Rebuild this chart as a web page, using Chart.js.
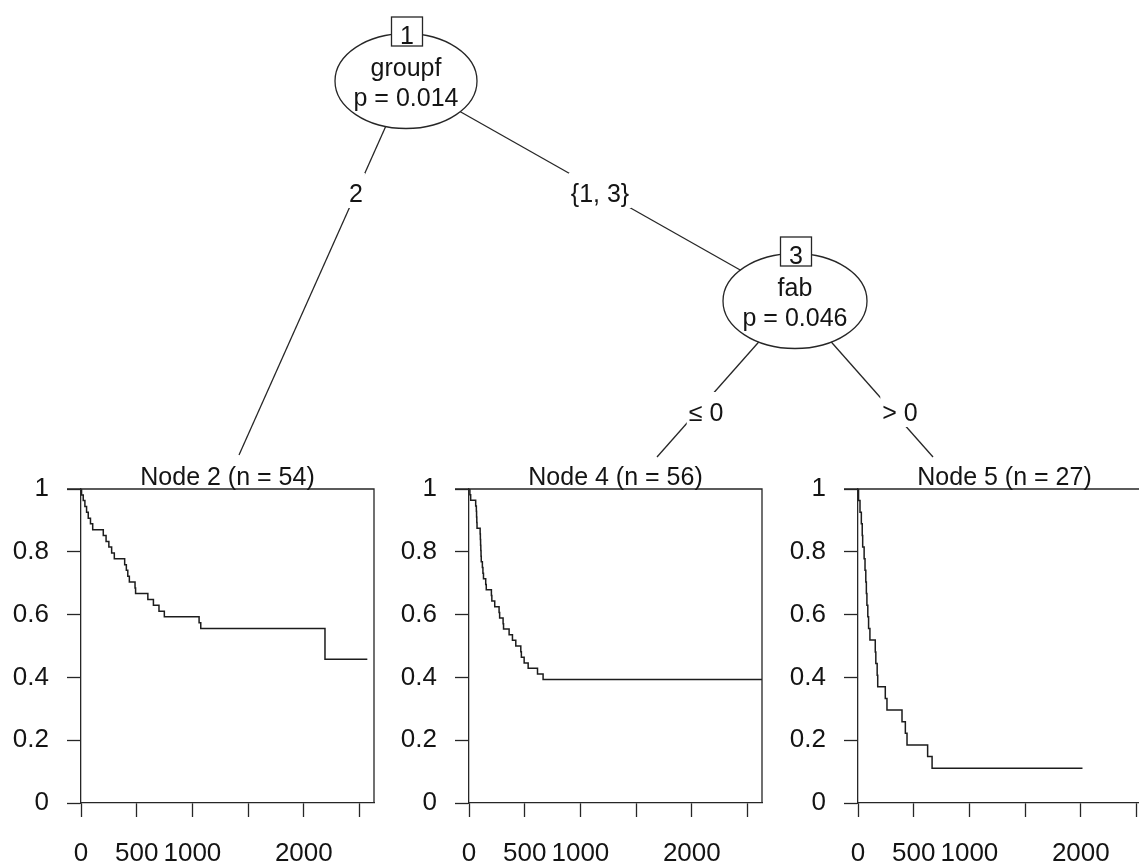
<!DOCTYPE html>
<html>
<head>
<meta charset="utf-8">
<title>Survival tree</title>
<script src="https://cdn.jsdelivr.net/npm/chart.js@4.4.1/dist/chart.umd.min.js"></script>
<style>
  html, body { margin: 0; padding: 0; background: #fff; }
  #page { position: relative; width: 1139px; height: 863px; overflow: hidden; background: #fff; }
  #page canvas { position: absolute; }
</style>
</head>
<body>
<div id="page">
  <canvas id="tree" width="1139" height="863" style="left:0;top:0"></canvas>
  <canvas id="node2" width="373" height="429" style="left:11px;top:440px"></canvas>
  <canvas id="node4" width="373" height="429" style="left:399px;top:440px"></canvas>
  <canvas id="node5" width="373" height="429" style="left:788px;top:440px"></canvas>
</div>
<script>
// ---- tree contents ----
const innerIds = ['1', '3'];
const innerVars = ['groupf', 'fab'];
const innerP = ['0.014', '0.046'];
const edgeLabels = ['2', '{1, 3}', '\u2264 0', '> 0'];
const terminalIds = [2, 4, 5];
const terminalN = [54, 56, 27];

// ---- survival axes ----
const TIME_MAX = 2630;
const timeTicks = [0, 500, 1000, 1500, 2000, 2500];
const timeTickLabels = ['0', '500', '1000', '', '2000', ''];
const survTicks = [0, 0.2, 0.4, 0.6, 0.8, 1];
const survTickLabels = ['0', '0.2', '0.4', '0.6', '0.8', '1'];

// ---- Kaplan-Meier steps per terminal node (time, survival) ----
const node2Time = [0, 5, 20, 35, 50, 65, 85, 105, 200, 225, 250, 275, 299, 392, 407, 420, 434, 485, 490, 600, 650, 700, 748, 1060, 1075, 2190, 2570];
const node2Surv = [1, 0.981, 0.963, 0.944, 0.926, 0.907, 0.889, 0.870, 0.852, 0.833, 0.815, 0.796, 0.778, 0.759, 0.741, 0.722, 0.704, 0.685, 0.667, 0.648, 0.630, 0.611, 0.593, 0.574, 0.556, 0.458, 0.458];

const node4Time = [0, 8, 15, 60, 66, 68, 70, 72, 100, 102, 104, 106, 108, 110, 120, 125, 130, 150, 155, 201, 205, 231, 270, 275, 306, 310, 360, 390, 420, 465, 470, 495, 531, 615, 665, 2630];
const node4Surv = [1, 0.982, 0.964, 0.946, 0.929, 0.911, 0.893, 0.875, 0.857, 0.839, 0.821, 0.804, 0.786, 0.768, 0.750, 0.732, 0.714, 0.696, 0.679, 0.661, 0.643, 0.625, 0.607, 0.589, 0.571, 0.554, 0.536, 0.518, 0.500, 0.482, 0.464, 0.446, 0.429, 0.411, 0.393, 0.393];

const node5Time = [0, 5, 18, 30, 38, 42, 55, 63, 70, 75, 80, 88, 95, 107, 155, 160, 172, 177, 245, 260, 395, 425, 440, 625, 665, 2015];
const node5Surv = [1, 0.963, 0.926, 0.889, 0.852, 0.815, 0.778, 0.741, 0.704, 0.667, 0.630, 0.593, 0.556, 0.519, 0.481, 0.444, 0.407, 0.370, 0.333, 0.296, 0.259, 0.222, 0.185, 0.148, 0.111, 0.111];

const FONT = '"Liberation Sans", Arial, sans-serif';
const INK = '#262626';
const TEXT = '#141414';

// pixel layout of the tree part
const innerPos = [{ x: 406, y: 81, rx: 71, ry: 47.5 }, { x: 795, y: 301, rx: 72, ry: 47.5 }];
const terminalTop = [{ x: 239, y: 455 }, { x: 657, y: 457 }, { x: 933, y: 457 }];
// edges: [from inner index, to 'i'nner or 't'erminal, index]
const edges = [[0, 't', 0], [0, 'i', 1], [1, 't', 1], [1, 't', 2]];
const edgeLabelPos = [{ x: 356, y: 202 }, { x: 600, y: 202 }, { x: 706, y: 421 }, { x: 900, y: 421 }];

const treePlugin = {
  id: 'tree',
  afterDraw(chart) {
    const ctx = chart.ctx;
    ctx.save();
    ctx.strokeStyle = INK;
    ctx.lineWidth = 1.3;

    // connecting lines
    edges.forEach(([from, kind, to]) => {
      const a = innerPos[from];
      const b = kind === 'i' ? innerPos[to] : terminalTop[to];
      ctx.beginPath();
      ctx.moveTo(a.x, a.y);
      ctx.lineTo(b.x, b.y);
      ctx.stroke();
    });

    ctx.font = '25px ' + FONT;
    ctx.textAlign = 'center';
    ctx.textBaseline = 'alphabetic';

    // split labels on a white patch
    edgeLabels.forEach((lab, i) => {
      const p = edgeLabelPos[i];
      const w = ctx.measureText(lab).width;
      ctx.fillStyle = '#fff';
      ctx.fillRect(p.x - w / 2 - 2, p.y - 29, w + 4, 35);
      ctx.fillStyle = TEXT;
      ctx.fillText(lab, p.x, p.y);
    });

    // inner nodes
    innerPos.forEach((n, i) => {
      ctx.beginPath();
      ctx.ellipse(n.x, n.y, n.rx, n.ry, 0, 0, Math.PI * 2);
      ctx.fillStyle = '#fff';
      ctx.fill();
      ctx.stroke();

      const bx = n.x + 1, by = n.y - n.ry - 2, bw = 31, bh = 29;
      ctx.fillRect(bx - bw / 2, by - bh / 2, bw, bh);
      ctx.strokeRect(bx - bw / 2, by - bh / 2, bw, bh);

      ctx.fillStyle = TEXT;
      ctx.fillText(innerIds[i], bx, by + 12);
      ctx.fillText(innerVars[i], n.x, n.y - 5);
      ctx.fillText('p = ' + innerP[i], n.x, n.y + 25);
    });
    ctx.restore();
  }
};

new Chart(document.getElementById('tree'), {
  type: 'scatter',
  data: { datasets: [] },
  options: {
    responsive: false,
    animation: false,
    events: [],
    scales: { x: { display: false }, y: { display: false } },
    plugins: { legend: { display: false }, tooltip: { enabled: false } }
  },
  plugins: [treePlugin]
});

// box around each panel plus the node title
const panelFrame = {
  id: 'panelFrame',
  afterDraw(chart, args, opts) {
    const { ctx, chartArea: a } = chart;
    ctx.save();
    ctx.strokeStyle = INK;
    ctx.lineWidth = 1.3;
    ctx.beginPath();
    ctx.moveTo(a.left - 14, a.top);
    ctx.lineTo(a.right, a.top);
    ctx.lineTo(a.right, a.bottom);
    ctx.stroke();
    ctx.fillStyle = TEXT;
    ctx.font = '25px ' + FONT;
    ctx.textAlign = 'center';
    ctx.textBaseline = 'alphabetic';
    ctx.fillText(opts.text, (a.left + a.right) / 2, a.top - 4);
    ctx.restore();
  }
};

function survivalChart(canvasId, idx, times, surv) {
  const points = times.map((t, i) => ({ x: t, y: surv[i] }));
  const tickFont = { family: FONT, size: 26 };
  return new Chart(document.getElementById(canvasId), {
    type: 'line',
    data: {
      datasets: [{
        data: points,
        stepped: 'before',
        borderColor: '#1c1c1c',
        borderWidth: 1.5,
        pointRadius: 0,
        fill: false
      }]
    },
    options: {
      responsive: false,
      animation: false,
      events: [],
      layout: { padding: { top: 49, right: 10, bottom: 0, left: 0 } },
      plugins: {
        legend: { display: false },
        tooltip: { enabled: false },
        panelFrame: { text: `Node ${terminalIds[idx]} (n = ${terminalN[idx]})` }
      },
      scales: {
        x: {
          type: 'linear',
          min: 0,
          max: TIME_MAX,
          afterBuildTicks: (s) => { s.ticks = timeTicks.map(v => ({ value: v })); },
          afterFit: (s) => { s.height = 66; },
          grid: { drawOnChartArea: false, drawTicks: true, tickLength: 14, tickColor: INK, tickWidth: 1.3 },
          border: { display: true, color: INK, width: 1.3 },
          ticks: {
            autoSkip: false, maxRotation: 0, minRotation: 0, padding: 21,
            color: TEXT, font: tickFont,
            callback: (v, i) => timeTickLabels[i]
          }
        },
        y: {
          type: 'linear',
          min: 0,
          max: 1,
          afterBuildTicks: (s) => { s.ticks = survTicks.map(v => ({ value: v })); },
          afterFit: (s) => { s.width = 70; },
          grid: { drawOnChartArea: false, drawTicks: true, tickLength: 14, tickColor: INK, tickWidth: 1.3 },
          border: { display: true, color: INK, width: 1.3 },
          ticks: {
            padding: 18, color: TEXT, font: tickFont,
            callback: (v, i) => survTickLabels[i]
          }
        }
      }
    },
    plugins: [panelFrame]
  });
}

survivalChart('node2', 0, node2Time, node2Surv);
survivalChart('node4', 1, node4Time, node4Surv);
survivalChart('node5', 2, node5Time, node5Surv);
</script>
</body>
</html>
